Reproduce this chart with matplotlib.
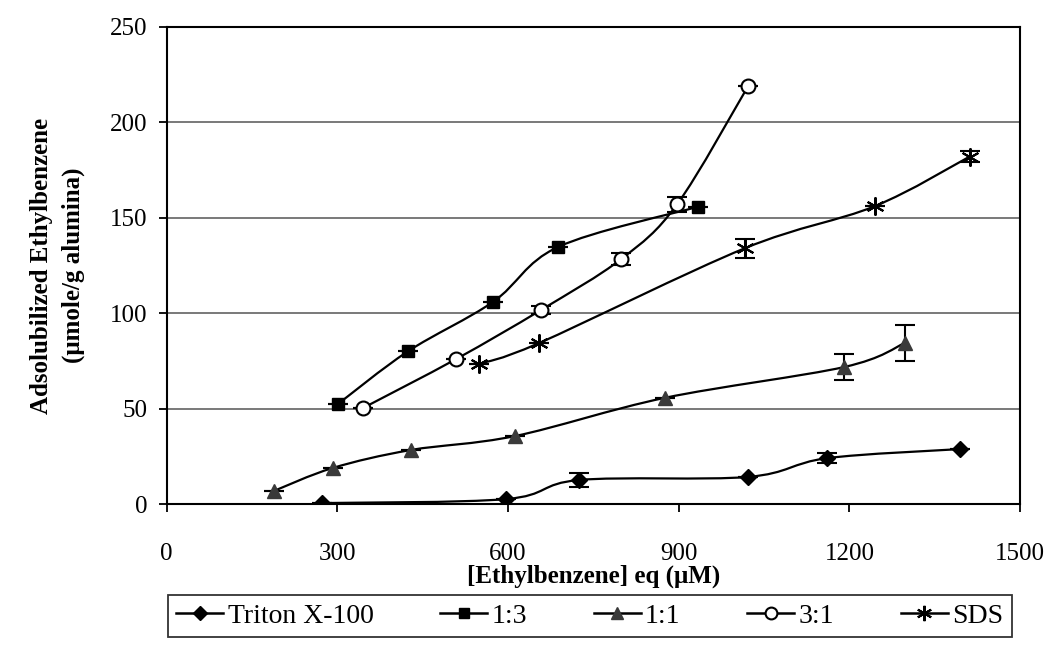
import matplotlib
matplotlib.use('Agg')
import matplotlib.pyplot as plt
from matplotlib.path import Path
from matplotlib.patches import PathPatch
from matplotlib.lines import Line2D
import numpy as np

plt.rcParams['font.family'] = ['Liberation Serif', 'DejaVu Serif']

# [Ethylbenzene] eq (uM) vs adsolubilized ethylbenzene (umole/g alumina)
triton_x = [273, 597, 725, 1022, 1160, 1395]
triton_y = [0.5, 2.6, 12.6, 14.2, 24.0, 28.8]
triton_err = [0, 0, 3.5, 0, 2.5, 0]

r13_x = [301, 424, 574, 688, 933]
r13_y = [52.4, 80.0, 106.0, 134.7, 155.7]
r13_err = [0, 0, 0, 0, 0]

r11_x = [188, 292, 429, 612, 875, 1191, 1297]
r11_y = [6.8, 18.9, 28.3, 35.6, 55.6, 71.8, 84.3]
r11_err = [0, 0, 0, 0, 0, 7.0, 9.5]

r31_x = [345, 509, 658, 799, 897, 1022]
r31_y = [50.3, 76.0, 101.7, 128.4, 157.0, 219.0]
r31_err = [0, 0, 2.0, 3.0, 4.0, 0]

sds_x = [549, 655, 1016, 1244, 1411]
sds_y = [73.4, 84.4, 134.0, 156.0, 182.0]
sds_err = [0, 0, 5.0, 0, 3.0]

labels = ['Triton X-100', '1:3', '1:1', '3:1', 'SDS']


def smooth_path(ax, xs, ys):
    # Catmull-Rom style bezier through the points (like spreadsheet "smoothed line")
    pts = np.column_stack([xs, ys]).astype(float)
    # work in display-ish units so the tension looks the same on both axes
    sx = 1.0 / 1500.0
    sy = 1.0 / 250.0 * (477.0 / 853.0)
    p = pts * [sx, sy]
    verts = [tuple(p[0])]
    codes = [Path.MOVETO]
    n = len(p)
    for i in range(n - 1):
        p0 = p[i - 1] if i > 0 else p[i]
        p1 = p[i]
        p2 = p[i + 1]
        p3 = p[i + 2] if i + 2 < n else p[i + 1]
        c1 = p1 + (p2 - p0) / 6.0
        c2 = p2 - (p3 - p1) / 6.0
        verts += [tuple(c1), tuple(c2), tuple(p2)]
        codes += [Path.CURVE4] * 3
    verts = np.array(verts) / [sx, sy]
    patch = PathPatch(Path(verts, codes), facecolor='none', edgecolor='black',
                      lw=1.6, zorder=3, transform=ax.transData)
    ax.add_patch(patch)


fig = plt.figure(figsize=(10.55, 6.55), dpi=100)
ax = fig.add_axes([0.158, 0.2305, 0.809, 0.7285])

series = [
    (triton_x, triton_y, triton_err, dict(marker='D', ms=8, mfc='black', mec='black')),
    (r13_x, r13_y, r13_err, dict(marker='s', ms=9, mfc='black', mec='black')),
    (r11_x, r11_y, r11_err, dict(marker='^', ms=10, mfc='#3a3a3a', mec='#3a3a3a')),
    (r31_x, r31_y, r31_err, dict(marker='o', ms=10, mfc='white', mec='black', mew=1.5)),
    (sds_x, sds_y, sds_err, dict(marker=(6, 2, 0), ms=13, mfc='black', mec='black', mew=1.5)),
]

handles = []
for (xs, ys, err, mk), lab in zip(series, labels):
    smooth_path(ax, xs, ys)
    ax.errorbar(xs, ys, yerr=err, fmt='none', ecolor='black', elinewidth=1.5,
                capsize=7, capthick=1.5, zorder=4)
    ax.plot(xs, ys, linestyle='none', zorder=5, **mk)
    handles.append(Line2D([], [], color='black', lw=1.8,
                          **{k: (v * 0.85 if k == 'ms' else v) for k, v in mk.items()}))

ax.set_xlim(0, 1500)
ax.set_ylim(0, 250)
ax.set_xticks([0, 300, 600, 900, 1200, 1500])
ax.set_yticks([0, 50, 100, 150, 200, 250])
ax.yaxis.grid(True, color='#555555', lw=1.1)
ax.set_axisbelow(True)
for s in ax.spines.values():
    s.set_linewidth(1.5)
ax.tick_params(labelsize=18, direction='out', length=6, width=1.3, pad=8)
ax.tick_params(axis='x', pad=22)

ax.set_xlabel('[Ethylbenzene] eq (\u03bcM)', fontsize=18, fontweight='bold', labelpad=0)
ax.set_ylabel('Adsolubilized Ethylbenzene\n(\u03bcmole/g alumina)', fontsize=18,
              fontweight='bold', labelpad=18, linespacing=1.45)

leg = fig.legend(handles, labels, loc='lower center', bbox_to_anchor=(0.559, 0.006),
                 ncol=5, frameon=True, fancybox=False, edgecolor='black',
                 fontsize=20, handlelength=1.7, handletextpad=0.15,
                 columnspacing=2.4, borderpad=0.3)
leg.get_frame().set_linewidth(1.3)

fig.savefig('out.png', dpi=100)
